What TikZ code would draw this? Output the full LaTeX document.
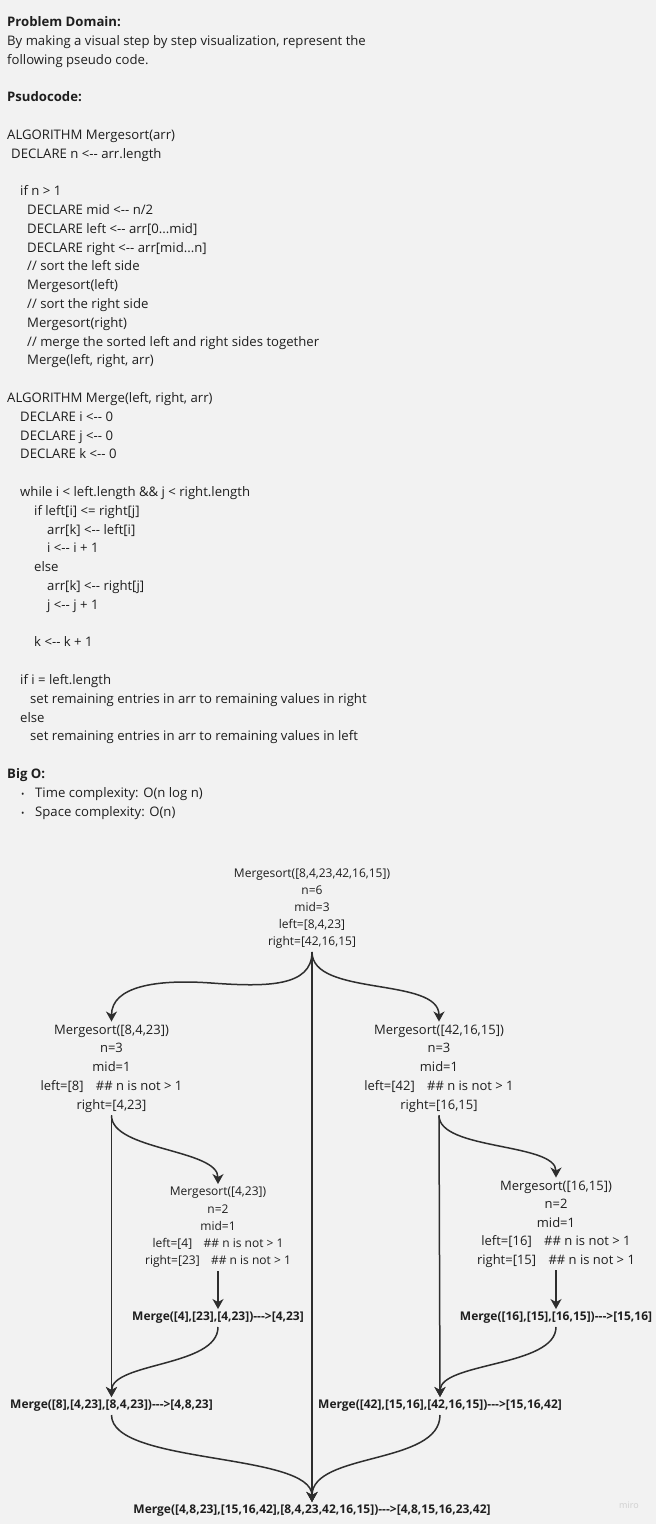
\documentclass[tikz,border=0pt]{standalone}
\usepackage{fontspec}
\setmainfont{Open Sans}
\newfontfamily\pcf{Open Sans}
\newfontfamily\dgf{Open Sans}
\usetikzlibrary{arrows.meta}
\definecolor{bg}{HTML}{F2F2F2}
\definecolor{txt}{HTML}{1E1E1E}
\definecolor{ln}{HTML}{2E2E2E}
\definecolor{wm}{HTML}{CFCFCF}
\newcommand\larr{<-\kern0pt-}
\newcommand\rarr{-\kern0pt-\kern0pt->}
\newcommand\nn{\hspace{0.95em}\#\# n is not > 1}
\newcommand\pl[4]{\node[pc] (#1) at (#2,{26.5+18.8*#3}) {#4};}
\tikzset{
  pc/.style={anchor=base west, inner sep=0pt, text=txt, font=\pcf\fontsize{13.15}{18.8}\selectfont},
  lbl/.style={align=center, inner sep=3pt, text=txt},
  mrg/.style={inner sep=3pt, text=txt, font=\dgf\bfseries\fontsize{12}{17}\selectfont},
  conn/.style={draw=ln, line width=1.5pt, -{Stealth[length=10pt,width=11pt,inset=3pt]}},
}
\begin{document}
\begin{tikzpicture}[x=1pt,y=-1pt]
\fill[bg] (0,0) rectangle (656,1524);
\useasboundingbox (0,0) rectangle (656,1524);
% pseudocode text
\pl{l0}{7}{0}{\textbf{Problem Domain:}}
\pl{l1}{7}{1}{By making a visual step by step visualization, represent the}
\pl{l2}{7}{2}{following pseudo code.}
\pl{l4}{7}{4}{\textbf{Psudocode:}}
\pl{l6}{7}{6}{ALGORITHM Mergesort(arr)}
\pl{l7}{11}{7}{DECLARE n \larr\ arr.length}
\pl{l9}{20}{9}{if n > 1}
\pl{l10}{27}{10}{DECLARE mid \larr\ n/2}
\pl{l11}{27}{11}{DECLARE left \larr\ arr[0...mid]}
\pl{l12}{27}{12}{DECLARE right \larr\ arr[mid...n]}
\pl{l13}{27}{13}{// sort the left side}
\pl{l14}{27}{14}{Mergesort(left)}
\pl{l15}{27}{15}{// sort the right side}
\pl{l16}{27}{16}{Mergesort(right)}
\pl{l17}{27}{17}{// merge the sorted left and right sides together}
\pl{l18}{27}{18}{Merge(left, right, arr)}
\pl{l20}{7}{20}{ALGORITHM Merge(left, right, arr)}
\pl{l21}{20}{21}{DECLARE i \larr\ 0}
\pl{l22}{20}{22}{DECLARE j \larr\ 0}
\pl{l23}{20}{23}{DECLARE k \larr\ 0}
\pl{l25}{20}{25}{while i < left.length \&\& j < right.length}
\pl{l26}{34}{26}{if left[i] <= right[j]}
\pl{l27}{47}{27}{arr[k] \larr\ left[i]}
\pl{l28}{47}{28}{i \larr\ i + 1}
\pl{l29}{34}{29}{else}
\pl{l30}{47}{30}{arr[k] \larr\ right[j]}
\pl{l31}{47}{31}{j \larr\ j + 1}
\pl{l33}{34}{33}{k \larr\ k + 1}
\pl{l35}{20}{35}{if i = left.length}
\pl{l36}{30}{36}{set remaining entries in arr to remaining values in right}
\pl{l37}{20}{37}{else}
\pl{l38}{30}{38}{set remaining entries in arr to remaining values in left}
\pl{l40}{7}{40}{\textbf{Big O:}}
\pl{b41}{21}{41}{\fontsize{9}{10}\selectfont\textbullet}
\pl{l41}{35}{41}{Time complexity: O(n log n)}
\pl{b42}{21}{42}{\fontsize{9}{10}\selectfont\textbullet}
\pl{l42}{35}{42}{Space complexity: O(n)}
% diagram nodes
\node[lbl, font=\dgf\fontsize{12}{17}\selectfont] (top) at (312,909)
  {Mergesort([8,4,23,42,16,15])\\n=6\\mid=3\\left=[8,4,23]\\right=[42,16,15]};
\node[lbl, font=\dgf\fontsize{13}{18.75}\selectfont] (lc) at (111.5,1068.5)
  {Mergesort([8,4,23])\\n=3\\mid=1\\left=[8]\nn\\right=[4,23]};
\node[lbl, font=\dgf\fontsize{13}{18.75}\selectfont] (rc) at (439,1068.5)
  {Mergesort([42,16,15])\\n=3\\mid=1\\left=[42]\nn\\right=[16,15]};
\node[lbl, font=\dgf\fontsize{12}{17.25}\selectfont] (sub) at (218,1227.5)
  {Mergesort([4,23])\\n=2\\mid=1\\left=[4]\nn\\right=[23]\nn};
\node[lbl, font=\dgf\fontsize{13}{18.5}\selectfont] (subr) at (556,1224)
  {Mergesort([16,15])\\n=2\\mid=1\\left=[16]\nn\\right=[15]\nn};
\node[mrg] (subm) at (218,1318) {Merge([4],[23],[4,23])\rarr[4,23]};
\node[mrg] (subrm) at (556,1318) {Merge([16],[15],[16,15])\rarr[15,16]};
\node[mrg] (lm) at (111.5,1406) {Merge([8],[4,23],[8,4,23])\rarr[4,8,23]};
\node[mrg] (rm) at (440,1406) {Merge([42],[15,16],[42,16,15])\rarr[15,16,42]};
\node[mrg] (fin) at (312,1511) {Merge([4,8,23],[15,16,42],[8,4,23,42,16,15])\rarr[4,8,15,16,23,42]};
\node[text=wm, inner sep=0pt, font=\dgf\fontsize{9}{10}\selectfont] (wm) at (629,1505) {miro};
% connectors
\draw[conn] (top.south) .. controls +(0,35) and +(55,4) .. ++(-101,31)
  .. controls +(-55,-4) and +(0,-35) .. (lc.north);
\draw[conn] (top.south) .. controls +(0,45) and +(0,-45) .. (rc.north);
\draw[conn] (top.south) -- (fin.north);
\draw[conn] (lc.south) -- (lm.north);
\draw[conn] (lc.south) .. controls +(0,35) and +(0,-35) .. (sub.north);
\draw[conn] (sub.south) -- (subm.north);
\draw[conn] (subm.south) .. controls +(0,40) and +(0,-35) .. (lm.north);
\draw[conn] (rc.south) -- (rm.north);
\draw[conn] (rc.south) .. controls +(0,35) and +(0,-35) .. (subr.north);
\draw[conn] (subr.south) -- (subrm.north);
\draw[conn] (subrm.south) .. controls +(0,40) and +(0,-35) .. (rm.north);
\draw[conn] (lm.south) .. controls +(0,50) and +(0,-50) .. (fin.north);
\draw[conn] (rm.south) .. controls +(0,50) and +(0,-50) .. (fin.north);
\end{tikzpicture}
\end{document}
